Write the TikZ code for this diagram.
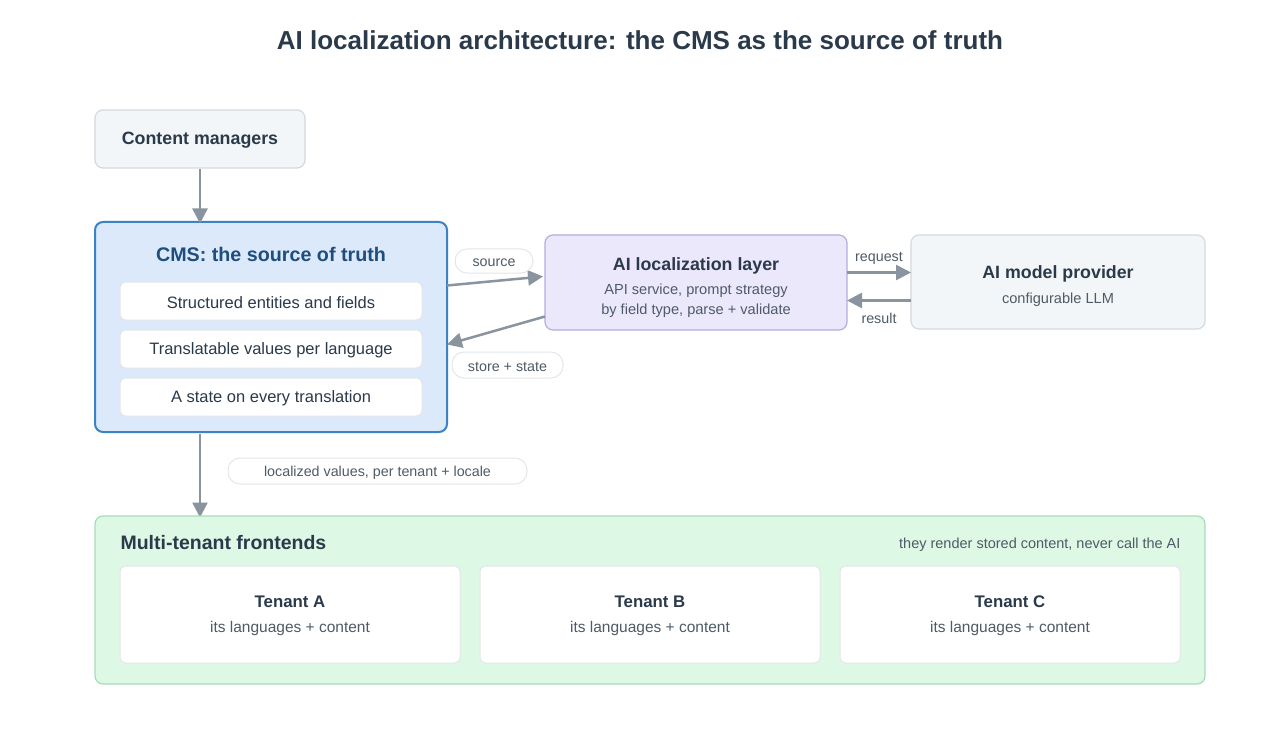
\documentclass[tikz,border=0pt]{standalone}
\usepackage{fontspec}
\setmainfont{Liberation Sans}
\usetikzlibrary{arrows.meta}
\definecolor{ink}{HTML}{2B3A4A}
\definecolor{subink}{HTML}{4F5B66}
\definecolor{arrowc}{HTML}{8A949E}
\definecolor{greyfill}{HTML}{F3F6F8}
\definecolor{greyline}{HTML}{D3DAE0}
\definecolor{bluefill}{HTML}{DCE9FB}
\definecolor{blueline}{HTML}{3D82C4}
\definecolor{bluetext}{HTML}{1D4E7E}
\definecolor{purplefill}{HTML}{ECE8FC}
\definecolor{purpleline}{HTML}{B9AAE2}
\definecolor{greenfill}{HTML}{DDF8E5}
\definecolor{greenline}{HTML}{A9DBB7}
\definecolor{pillline}{HTML}{E3E7EB}
\tikzset{
  every node/.style={yshift=-1.5pt},
  box/.style={draw, rounded corners=8pt, line width=1.2pt},
  greybox/.style={box, fill=greyfill, draw=greyline},
  innerbox/.style={draw=pillline, fill=white, rounded corners=6pt, line width=1pt},
  pill/.style={draw=pillline, fill=white, rounded corners=12pt, line width=1pt, inner sep=0pt},
  conn/.style={draw=arrowc, line width=2.5pt, -{Triangle[length=15pt,width=15pt]}},
  ttl/.style={font=\fontsize{17.8}{20}\selectfont\bfseries, text=ink},
  sub/.style={font=\fontsize{14.6}{17}\selectfont, text=subink},
  lbl/.style={font=\fontsize{14.3}{16}\selectfont, text=subink},
}
\begin{document}
\begin{tikzpicture}[x=1pt,y=-1pt]
\useasboundingbox (0,0) rectangle (1280,730);
\fill[white] (0,0) rectangle (1280,730);

% title
\node[font=\fontsize{26}{30}\selectfont\bfseries, text=ink] (title) at (640,39) {AI localization architecture: the CMS as the source of truth};

% content managers
\draw[greybox] (95,110) rectangle (305,168);
\node[ttl] (cm) at (200,139) {Content managers};
\coordinate (cmb) at (200,168);

% CMS
\draw[box, fill=bluefill, draw=blueline, line width=2pt] (95,222) rectangle (447,432);
\node[font=\fontsize{19.7}{23}\selectfont\bfseries, text=bluetext] (cmsttl) at (271,253) {CMS: the source of truth};
\foreach \y/\t/\n in {282/Structured entities and fields/i1, 330/Translatable values per language/i2, 378/A state on every translation/i3}{
  \draw[innerbox] (120,\y) rectangle (422,\y+38);
  \node[font=\fontsize{16.5}{19}\selectfont, text=ink] (\n) at (271,\y+19) {\t};
}

% AI localization layer
\draw[box, fill=purplefill, draw=purpleline] (545,235) rectangle (847,330);
\node[ttl] (ail) at (696,264) {AI localization layer};
\node[sub] (ails1) at (696,289) {API service, prompt strategy};
\node[sub] (ails2) at (696,309) {by field type, parse + validate};

% AI model provider
\draw[greybox] (911,235) rectangle (1205,329);
\node[ttl] (aim) at (1058,272) {AI model provider};
\node[sub] (aims) at (1058,298) {configurable LLM};

% connectors
\coordinate (src1) at (447,284);
\coordinate (src2) at (543,275);
\coordinate (st1) at (545,315);
\coordinate (st2) at (447,343);
\coordinate (rq1) at (847,271);
\coordinate (rq2) at (911,271);
\coordinate (rs1) at (911,299);
\coordinate (rs2) at (847,299);
\coordinate (cmstop) at (200,222);
\coordinate (cmsbot) at (200,432);
\coordinate (fetop) at (200,516);

\draw[conn] (cmb) -- (cmstop);
\draw[conn] (src1) -- (src2);
\draw[conn] (st1) -- (st2);
\draw[conn] (rq1) -- (rq2);
\draw[conn] (rs1) -- (rs2);
\draw[conn] (cmsbot) -- (fetop);

% pills
\draw[pill] (455,249) rectangle (533,273);
\node[lbl] (lsrc) at (494,261) {source};
\draw[pill] (452,352) rectangle (563,378);
\node[lbl] (lst) at (507.5,365) {store + state};
\draw[pill] (228,458) rectangle (527,484);
\node[lbl] (lloc) at (377.5,471) {localized values, per tenant + locale};
\node[lbl] (lrq) at (879,257) {request};
\node[lbl] (lrs) at (879,317) {result};

% frontends
\draw[box, fill=greenfill, draw=greenline] (95,516) rectangle (1205,684);
\node[font=\fontsize{19.5}{22}\selectfont\bfseries, text=ink, anchor=west] (fe) at (117,541) {Multi-tenant frontends};
\node[font=\fontsize{14.5}{17}\selectfont, text=subink, anchor=east] (fen) at (1184,543) {they render stored content, never call the AI};
\foreach \x/\t/\n in {120/A/ta, 480/B/tb, 840/C/tc}{
  \draw[innerbox] (\x,566) rectangle (\x+340,663);
  \node[font=\fontsize{16.8}{19}\selectfont\bfseries, text=ink] (\n) at (\x+170,600) {Tenant \t};
  \node[font=\fontsize{15.5}{18}\selectfont, text=subink] (\n s) at (\x+170,627) {its languages + content};
}
\end{tikzpicture}
\end{document}
